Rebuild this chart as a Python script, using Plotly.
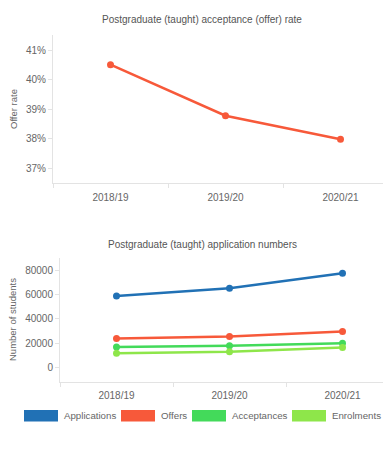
import plotly.graph_objects as go

W, H = 391, 458
OFF = 8  # page body margin offset

years = ["2018/19", "2019/20", "2020/21"]
offer_rate = [40.52, 38.78, 37.98]

series_names = ["Applications", "Offers", "Acceptances", "Enrolments"]
applications = [59000, 65500, 77900]
offers = [23800, 25400, 29500]
acceptances = [16800, 17700, 19800]
enrolments = [11600, 12700, 16300]
series_colors = ["#2171b5", "#f7593a", "#43da5a", "#8ee64a"]

rate_ticks = [37, 38, 39, 40, 41]
rate_tick_labels = ["37%", "38%", "39%", "40%", "41%"]
count_ticks = [0, 20000, 40000, 60000, 80000]
count_tick_labels = ["0", "20000", "40000", "60000", "80000"]

FONT = "Liberation Sans, Arial, sans-serif"
TXT = "#666666"
AXC = "#e3e3e3"

def px_x(v):
    return (v - OFF) / W

def px_y(v):
    return 1 - (v - OFF) / H

fig = go.Figure()

fig.add_trace(go.Scatter(
    x=years, y=offer_rate, mode="lines+markers", xaxis="x", yaxis="y",
    line=dict(color=series_colors[1], width=2.5),
    marker=dict(size=7, color=series_colors[1]), showlegend=False,
))

for name, vals, col in zip(series_names, [applications, offers, acceptances, enrolments], series_colors):
    fig.add_trace(go.Scatter(
        x=years, y=vals, mode="lines+markers", xaxis="x2", yaxis="y2", name=name,
        line=dict(color=col, width=2.5),
        marker=dict(size=7, color=col), showlegend=False,
    ))

axis_common = dict(
    showgrid=False, zeroline=False, showline=True, linecolor=AXC, linewidth=1,
    ticks="outside", ticklen=4, tickcolor=AXC,
    tickfont=dict(family=FONT, size=10, color=TXT),
)

fig.update_layout(
    width=W, height=H, margin=dict(l=0, r=0, t=0, b=0),
    paper_bgcolor="white", plot_bgcolor="white",
    font=dict(family=FONT, color=TXT),
    xaxis=dict(domain=[px_x(53), px_x(398)], anchor="y", type="category",
               range=[-0.5, 2.5], tickson="boundaries", ticklabelstandoff=5, **axis_common),
    yaxis=dict(domain=[px_y(183), px_y(35)], anchor="x", range=[36.49, 41.53],
               tickvals=rate_ticks, ticktext=rate_tick_labels, **axis_common),
    xaxis2=dict(domain=[px_x(60), px_x(399)], anchor="y2", type="category",
                range=[-0.5, 2.5], tickson="boundaries", ticklabelstandoff=4, **axis_common),
    yaxis2=dict(domain=[px_y(382), px_y(258)], anchor="x2", range=[-12300, 90500],
                tickvals=count_ticks, ticktext=count_tick_labels, **axis_common),
)

annotations = [
    dict(text="Postgraduate (taught) acceptance (offer) rate", x=px_x(202), y=px_y(20),
         xref="paper", yref="paper", showarrow=False, xanchor="center", yanchor="middle",
         font=dict(family=FONT, size=10, color="#555555")),
    dict(text="Postgraduate (taught) application numbers", x=px_x(202), y=px_y(244),
         xref="paper", yref="paper", showarrow=False, xanchor="center", yanchor="middle",
         font=dict(family=FONT, size=10, color="#555555")),
    dict(text="Offer rate", x=px_x(13), y=px_y(109), xref="paper", yref="paper",
         showarrow=False, textangle=-90, xanchor="center", yanchor="middle",
         font=dict(family=FONT, size=9.5, color=TXT)),
    dict(text="Number of students", x=px_x(12), y=px_y(320), xref="paper", yref="paper",
         showarrow=False, textangle=-90, xanchor="center", yanchor="middle",
         font=dict(family=FONT, size=9.5, color=TXT)),
]

# custom legend with rectangular swatches
shapes = []
legend_x = [24, 121, 192, 292]
for name, col, lx in zip(series_names, series_colors, legend_x):
    shapes.append(dict(type="rect", xref="paper", yref="paper",
                       x0=px_x(lx), x1=px_x(lx + 34), y0=px_y(421.5), y1=px_y(410),
                       fillcolor=col, line=dict(width=0)))
    annotations.append(dict(text=name, x=px_x(lx + 38), y=px_y(415.7), xref="paper", yref="paper",
                            showarrow=False, xanchor="left", yanchor="middle",
                            font=dict(family=FONT, size=9.7, color=TXT)))

fig.update_layout(annotations=annotations, shapes=shapes)

fig.write_html("out.html")
